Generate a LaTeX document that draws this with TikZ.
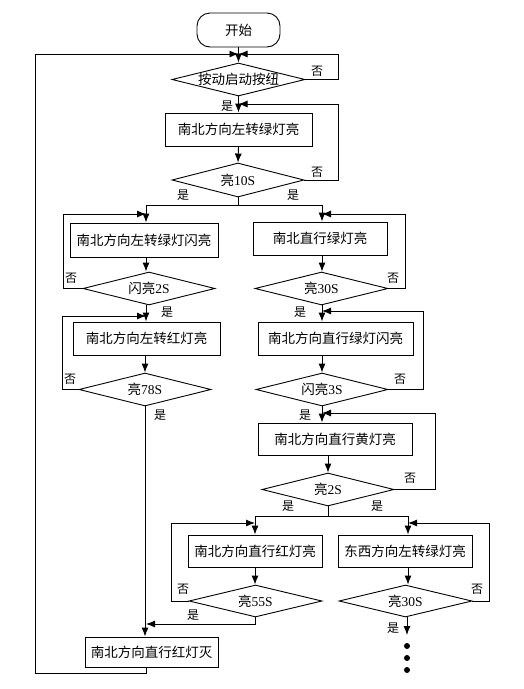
\documentclass[tikz,border=0pt]{standalone}
\usepackage{fontspec}
\setmainfont{Liberation Serif}
\newfontfamily\cjk{Noto Sans CJK SC}
\usetikzlibrary{shapes.geometric,arrows.meta}
\tikzset{
  every picture/.style={x=1pt,y=-1pt},
  base/.style={draw,line width=0.9pt,inner sep=0pt,font=\fontsize{13.5}{16}\selectfont\cjk},
  procbox/.style={base,rectangle,minimum height=33pt},
  decide/.style={base,diamond,aspect=4,minimum width=132pt,minimum height=33pt},
  startbox/.style={base,rectangle,rounded corners=13pt,minimum width=83pt,minimum height=34pt},
  lab/.style={font=\fontsize{12}{14}\selectfont\cjk,inner sep=0pt},
  line/.style={line width=0.9pt},
  arr/.style={line width=0.9pt,-{Latex[length=9pt,width=7pt]}},
  dot/.style={circle,fill,inner sep=0pt,minimum size=6pt}
}
\begin{document}
\begin{tikzpicture}
\useasboundingbox (0,0) rectangle (524,689);
% columns
\coordinate (cM) at (238,0);
\coordinate (cL) at (146,0);
\coordinate (cR) at (322,0);
% nodes
\node[startbox] (st) at (238.5,30) {开始};
\node[decide,minimum width=133pt] (d1) at (238.5,79.5) {按动启动按纽};
\node[procbox,minimum width=147pt] (b2) at (238.5,129.5) {南北方向左转绿灯亮};
\node[decide,minimum height=34pt] (d2) at (238,180) {亮{\rmfamily 10S}};

\node[procbox,minimum width=148pt,minimum height=34pt] (b3) at (144,240) {南北方向左转绿灯闪亮};
\node[decide] (d3) at (149,288.5) {闪亮{\rmfamily 2S}};
\node[procbox,minimum width=147pt] (b4) at (146.5,338.5) {南北方向左转红灯亮};
\node[decide] (d5) at (145,389.5) {亮{\rmfamily 78S}};

\node[procbox,minimum width=134pt] (r1) at (320,238.5) {南北直行绿灯亮};
\node[decide,minimum width=133pt] (e1) at (321.5,288.5) {亮{\rmfamily 30S}};
\node[procbox,minimum width=155pt] (r2) at (335.5,338.5) {南北方向直行绿灯闪亮};
\node[decide] (e2) at (322,389.5) {闪亮{\rmfamily 3S}};
\node[procbox,minimum width=154pt,minimum height=32pt] (r3) at (335,439) {南北方向直行黄灯亮};
\node[decide] (e3) at (328,489.5) {亮{\rmfamily 2S}};

\node[procbox,minimum width=134pt,minimum height=32pt] (s1) at (255,551) {南北方向直行红灯亮};
\node[decide,minimum width=133pt,minimum height=32pt] (f1) at (255.5,601) {亮{\rmfamily 55S}};
\node[procbox,minimum width=134pt,minimum height=32pt] (s2) at (405,551) {东西方向左转绿灯亮};
\node[decide,minimum width=133pt,minimum height=32pt] (f2) at (405.5,601) {亮{\rmfamily 30S}};

\node[procbox,minimum width=133pt,minimum height=30pt] (fb) at (151.5,652) {南北方向直行红灯灭};

\node[dot] (p1) at (407,646) {};
\node[dot] (p2) at (407,658) {};
\node[dot] (p3) at (407,670) {};

% junction coordinates
\coordinate (j1) at (238.5,54);
\coordinate (n1) at (338,54);
\coordinate (xL) at (35,673);
\coordinate (j2) at (238.5,104);
\coordinate (n2) at (338,104);
\coordinate (sp1) at (238,205);
\coordinate (jL1) at (146,214);
\coordinate (nL1) at (63,214);
\coordinate (jL2) at (146,316);
\coordinate (nL2) at (62,316);
\coordinate (jR1) at (322,214);
\coordinate (nR1) at (405,214);
\coordinate (jR2) at (322,311);
\coordinate (nR2) at (423,311);
\coordinate (jR3) at (322,413);
\coordinate (nR3) at (435,413);
\coordinate (sp2) at (328,516);
\coordinate (jS1) at (255,523);
\coordinate (nS1) at (171,523);
\coordinate (jS2) at (408,523);
\coordinate (nS2) at (489,523);
\coordinate (mg) at (255,624);
\coordinate (mgL) at (146,624);
\coordinate (fe) at (407,635);

% connectors: top
\draw[arr] (st.south) -- (d1.north);
\draw[arr] (fb.south -| cL) |- (xL) |- (j1);
\draw[arr] (d1.east) -| (n1) -- (j1);
\draw[arr] (d1.south) -- (b2.north);
\draw[arr] (d2.east) -| (n2) -- (j2);
\draw[arr] (b2.south) -- (d2.north);
\draw[line] (d2.south) -- (sp1);
\draw[arr] (sp1) -| (b3.north -| cL);
\draw[arr] (sp1) -| (r1.north -| cR);
% left column
\draw[arr] (b3.south -| cL) -- (d3.north -| cL);
\draw[arr] (d3.west) -| (nL1) -- (jL1);
\draw[arr] (d3.south -| cL) -- (b4.north -| cL);
\draw[arr] (d5.west) -| (nL2) -- (jL2);
\draw[arr] (b4.south -| d5.north) -- (d5.north);
\draw[arr] (d5.south) -- (fb.north -| d5.south);
% right column
\draw[arr] (r1.south -| cR) -- (e1.north -| cR);
\draw[arr] (e1.east) -| (nR1) -- (jR1);
\draw[arr] (e1.south -| cR) -- (r2.north -| cR);
\draw[arr] (r2.south -| cR) -- (e2.north -| cR);
\draw[arr] (e2.east) -| (nR2) -- (jR2);
\draw[arr] (e2.south -| cR) -- (r3.north -| cR);
\draw[arr] (r3.south -| e3.north) -- (e3.north);
\draw[arr] (e3.east) -| (nR3) -- (jR3);
\draw[line] (e3.south) -- (sp2);
\draw[arr] (sp2) -| (s1.north);
\draw[arr] (sp2) -| (s2.north -| jS2);
\draw[arr] (s1.south) -- (f1.north -| s1.south);
\draw[arr] (f1.west) -| (nS1) -- (jS1);
\draw[arr] (f1.south) |- (mgL);
\draw[arr] (s2.south -| jS2) -- (f2.north -| jS2);
\draw[arr] (f2.east) -| (nS2) -- (jS2);
\draw[arr] (f2.south -| fe) -- (fe);

% labels
\node[lab] (l1) at (317,71) {否};
\node[lab] (l2) at (227,106) {是};
\node[lab] (l3) at (317,172) {否};
\node[lab] (l4) at (183,195) {是};
\node[lab] (l5) at (293,195) {是};
\node[lab] (l6) at (71,278) {否};
\node[lab] (l7) at (167,312) {是};
\node[lab] (l8) at (70,379) {否};
\node[lab] (l9) at (160,415) {是};
\node[lab] (l10) at (393,278) {否};
\node[lab] (l11) at (300,312) {是};
\node[lab] (l12) at (400,379) {否};
\node[lab] (l13) at (305,415) {是};
\node[lab] (l14) at (410,478) {否};
\node[lab] (l15) at (288,506) {是};
\node[lab] (l16) at (377,506) {是};
\node[lab] (l17) at (183,589) {否};
\node[lab] (l18) at (193,615) {是};
\node[lab] (l19) at (477,589) {否};
\node[lab] (l20) at (393,628) {是};
\end{tikzpicture}
\end{document}
